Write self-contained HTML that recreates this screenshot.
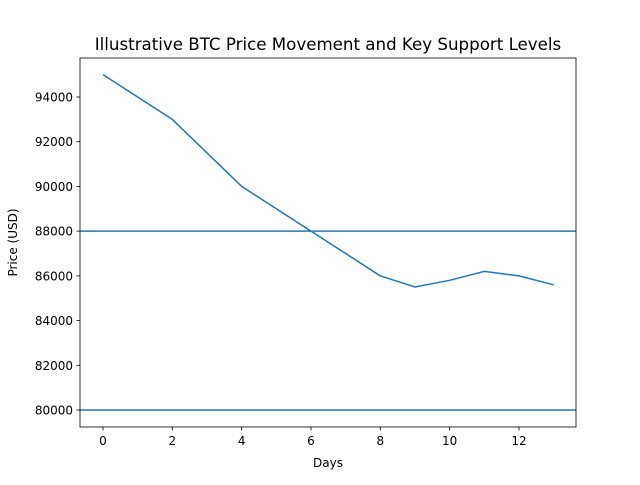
<!DOCTYPE html>
<html><head><meta charset="utf-8"><style>body{margin:0;background:#fff}</style></head><body>
<svg width="640" height="480" xmlns="http://www.w3.org/2000/svg" font-family="DejaVu Sans, Liberation Sans, sans-serif">
<rect width="640" height="480" fill="#fff"/>
<text x="328" y="50" font-size="16.67" text-anchor="middle">Illustrative BTC Price Movement and Key Support Levels</text>
<g stroke="#1f77b4" stroke-width="1.5" fill="none">
<line x1="80" y1="231.1" x2="576" y2="231.1"/>
<line x1="80" y1="410" x2="576" y2="410"/>
<polyline points="103,74.6 172.3,119.4 241.7,186.4 311,231.1 380.3,275.9 415,287 449.7,280.3 484.3,271.4 519,275.9 553.7,284.8"/>
</g>
<rect x="80" y="58" width="496" height="369" fill="none" stroke="#000" stroke-width="0.8"/>
<g stroke="#000" stroke-width="0.8">
<line x1="103" y1="427" x2="103" y2="430.5"/><line x1="172.3" y1="427" x2="172.3" y2="430.5"/><line x1="241.7" y1="427" x2="241.7" y2="430.5"/><line x1="311" y1="427" x2="311" y2="430.5"/><line x1="380.3" y1="427" x2="380.3" y2="430.5"/><line x1="449.7" y1="427" x2="449.7" y2="430.5"/><line x1="519" y1="427" x2="519" y2="430.5"/>
<line x1="76.5" y1="410" x2="80" y2="410"/><line x1="76.5" y1="365.3" x2="80" y2="365.3"/><line x1="76.5" y1="320.6" x2="80" y2="320.6"/><line x1="76.5" y1="275.9" x2="80" y2="275.9"/><line x1="76.5" y1="231.1" x2="80" y2="231.1"/><line x1="76.5" y1="186.4" x2="80" y2="186.4"/><line x1="76.5" y1="141.7" x2="80" y2="141.7"/><line x1="76.5" y1="97" x2="80" y2="97"/>
</g>
<g font-size="12" text-anchor="middle">
<text x="103" y="445">0</text><text x="172.3" y="445">2</text><text x="241.7" y="445">4</text><text x="311" y="445">6</text><text x="380.3" y="445">8</text><text x="449.7" y="445">10</text><text x="519" y="445">12</text>
<text x="328" y="467">Days</text>
</g>
<g font-size="12" text-anchor="end">
<text x="73" y="414.5">80000</text><text x="73" y="369.8">82000</text><text x="73" y="325.1">84000</text><text x="73" y="280.4">86000</text><text x="73" y="235.6">88000</text><text x="73" y="190.9">90000</text><text x="73" y="146.2">92000</text><text x="73" y="101.5">94000</text>
</g>
<text x="17" y="242.5" font-size="12" text-anchor="middle" transform="rotate(-90 17 242.5)">Price (USD)</text>
</svg>
</body></html>
